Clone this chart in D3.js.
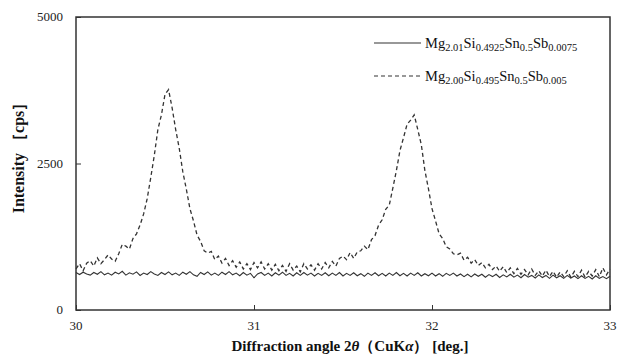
<!DOCTYPE html>
<html>
<head>
<meta charset="utf-8">
<script src="https://cdn.jsdelivr.net/npm/d3@7"></script>
<style>
  body { margin: 0; background: #fff; }
  text { font-family: "Liberation Serif", "Times New Roman", serif; }
</style>
</head>
<body>
<script>
// 2theta from 30.00 to 33.00, step 0.02
let xStart = 30, xStep = 0.02;

let sample1 = [ // Mg2.01Si0.4925Sn0.5Sb0.0075 (solid)
  640, 605, 645, 615, 595, 640, 610, 655, 600, 630, 595, 645, 615, 660, 595, 635, 610, 650, 590, 630,
  605, 655, 615, 590, 640, 605, 650, 600, 630, 590, 645, 610, 655, 600, 575, 640, 605, 650, 595, 630,
  590, 645, 605, 655, 600, 630, 585, 640, 595, 625, 550, 615, 640, 590, 630, 580, 635, 595, 645, 590,
  625, 580, 635, 590, 640, 595, 630, 580, 625, 590, 635, 585, 630, 590, 640, 580, 625, 590, 635, 585,
  620, 575, 630, 590, 635, 585, 625, 580, 630, 590, 640, 585, 625, 580, 630, 590, 635, 580, 620, 585,
  630, 580, 620, 575, 625, 590, 630, 580, 615, 570, 610, 565, 615, 575, 610, 560, 605, 570, 610, 555,
  600, 565, 610, 560, 595, 550, 605, 560, 590, 545, 600, 555, 590, 540, 595, 550, 585, 540, 590, 545,
  580, 535, 585, 540, 575, 530, 585, 540, 570, 535, 575
];

let sample2 = [ // Mg2.00Si0.495Sn0.5Sb0.005 (dashed)
  700, 790, 670, 800, 840, 750, 890, 790, 860, 940, 870, 830, 960, 1120, 1090, 1040, 1220, 1300, 1450, 1640,
  1900, 2260, 2640, 3080, 3330, 3680, 3760, 3450, 3080, 2760, 2360, 2060, 1730, 1520, 1280, 1170, 1010, 970, 1000, 860,
  920, 800, 880, 760, 840, 730, 820, 700, 790, 690, 810, 720, 820, 700, 790, 680, 780, 670, 760, 660,
  790, 680, 750, 650, 790, 700, 770, 680, 790, 700, 810, 720, 830, 750, 880, 920, 860, 980, 880, 990,
  1010, 1090, 1030, 1200, 1270, 1450, 1540, 1720, 1790, 2080, 2380, 2720, 2940, 3170, 3240, 3330, 3080, 2820, 2380, 2070,
  1730, 1520, 1300, 1220, 1080, 1040, 960, 940, 970, 850, 900, 800, 860, 760, 810, 720, 780, 690, 750, 660,
  740, 640, 720, 620, 710, 610, 690, 600, 700, 590, 670, 580, 680, 570, 660, 560, 650, 570, 670, 560,
  660, 570, 680, 560, 660, 580, 690, 570, 720, 600, 700
];

let xTicks = [30, 31, 32, 33];
let yTicks = [0, 2500, 5000];

let mLeft = 76, mRight = 610, mTop = 17, mBottom = 310;
let ink = "#333";

let xScale = d3.scaleLinear().domain([30, 33]).range([mLeft, mRight]);
let yScale = d3.scaleLinear().domain([0, 5000]).range([mBottom, mTop]);

let svg = d3.select("body").append("svg")
    .attr("width", 625).attr("height", 356);

let line = d3.line()
    .x(function (d, i) { return xScale(xStart + i * xStep); })
    .y(function (d) { return yScale(d); });

svg.append("path")
    .datum(sample1)
    .attr("d", line)
    .attr("fill", "none")
    .attr("stroke", ink)
    .attr("stroke-width", 1.1);

svg.append("path")
    .datum(sample2)
    .attr("d", line)
    .attr("fill", "none")
    .attr("stroke", ink)
    .attr("stroke-width", 1.3)
    .attr("stroke-dasharray", "4,3");

// axes: inside ticks, labels drawn separately
let xAxis = svg.append("g")
    .attr("transform", "translate(0," + mBottom + ")")
    .call(d3.axisTop(xScale).tickValues(xTicks).tickSize(5).tickFormat(""));
let yAxis = svg.append("g")
    .attr("transform", "translate(" + mLeft + ",0)")
    .call(d3.axisRight(yScale).tickValues(yTicks).tickSize(5).tickFormat(""));
xAxis.select(".domain").remove();
yAxis.select(".domain").remove();
svg.selectAll(".tick line").attr("stroke", ink);

svg.append("rect")
    .attr("x", mLeft).attr("y", mTop)
    .attr("width", mRight - mLeft).attr("height", mBottom - mTop)
    .attr("fill", "none")
    .attr("stroke", ink)
    .attr("stroke-width", 1.5);

svg.selectAll(".xlab")
    .data(xTicks).enter()
    .append("text")
    .attr("x", function (d) { return xScale(d); })
    .attr("y", 330)
    .attr("text-anchor", "middle")
    .attr("font-size", 13)
    .attr("fill", "#222")
    .text(function (d) { return d; });

svg.selectAll(".ylab")
    .data(yTicks).enter()
    .append("text")
    .attr("x", 63)
    .attr("y", function (d) { return yScale(d) + 4; })
    .attr("text-anchor", "end")
    .attr("font-size", 13)
    .attr("fill", "#222")
    .text(function (d) { return d; });

// axis titles
let xt = svg.append("text")
    .attr("x", 350).attr("y", 351)
    .attr("text-anchor", "middle")
    .attr("font-size", 15)
    .attr("font-weight", "bold")
    .attr("fill", "#111");
xt.append("tspan").text("Diffraction angle 2");
xt.append("tspan").attr("font-style", "italic").text("θ");
xt.append("tspan").text("（CuK");
xt.append("tspan").attr("font-style", "italic").text("α");
xt.append("tspan").text("）  [deg.]");

svg.append("text")
    .attr("transform", "translate(24,154) rotate(-90)")
    .attr("text-anchor", "middle")
    .attr("font-size", 16)
    .attr("font-weight", "bold")
    .attr("fill", "#111")
    .text("Intensity ［cps］");

// legend
let legend = [
  { parts: [["Mg", "2.01"], ["Si", "0.4925"], ["Sn", "0.5"], ["Sb", "0.0075"]], dash: null, y: 43 },
  { parts: [["Mg", "2.00"], ["Si", "0.495"], ["Sn", "0.5"], ["Sb", "0.005"]], dash: "4,3", y: 76 }
];

legend.forEach(function (l) {
  svg.append("line")
      .attr("x1", 374).attr("x2", 421)
      .attr("y1", l.y).attr("y2", l.y)
      .attr("stroke", ink)
      .attr("stroke-width", 1.2)
      .attr("stroke-dasharray", l.dash);
  let t = svg.append("text")
      .attr("x", 425).attr("y", l.y + 5)
      .attr("font-size", 14.5)
      .attr("fill", "#111");
  l.parts.forEach(function (p, k) {
    t.append("tspan").attr("dy", k === 0 ? 0 : -3).text(p[0]);
    t.append("tspan").attr("font-size", 10.5).attr("dy", 3).text(p[1]);
  });
});
</script>
</body>
</html>
